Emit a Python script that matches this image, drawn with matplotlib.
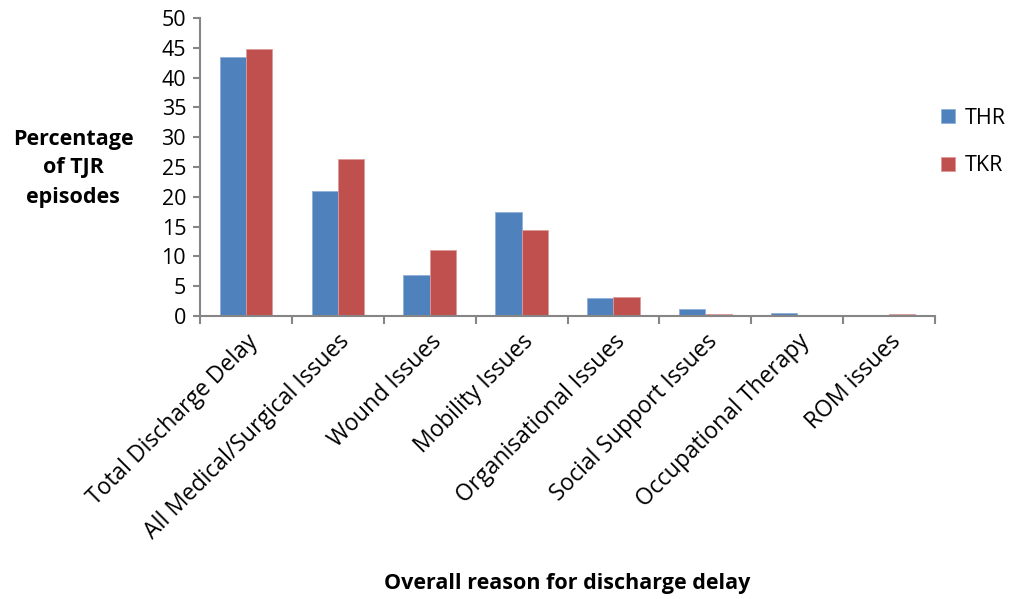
import matplotlib
matplotlib.use("Agg")
import matplotlib.pyplot as plt
import numpy as np

categories = ["Total Discharge Delay", "All Medical/Surgical Issues", "Wound Issues",
              "Mobility Issues", "Organisational Issues", "Social Support Issues",
              "Occupational Therapy", "ROM issues"]
thr = [43.5, 21.0, 6.8, 17.4, 3.1, 1.2, 0.55, 0.0]
tkr = [44.8, 26.3, 11.1, 14.4, 3.2, 0.3, 0.0, 0.3]

plt.rcParams['font.family'] = ['Open Sans', 'DejaVu Sans']
fs = 15.5

fig = plt.figure(figsize=(10.11, 5.99), dpi=100)
ax = fig.add_axes([200 / 1011, 1 - 316 / 599, 735 / 1011, 298 / 599])

ind = np.arange(len(categories))
width = 0.286
ax.bar(ind - width / 2, thr, width, color="#4f81bd", edgecolor="#8fb0d8", linewidth=0.6, label="THR")
ax.bar(ind + width / 2, tkr, width, color="#c0504d", edgecolor="#dc9a98", linewidth=0.6, label="TKR")

ax.set_xlim(-0.5, len(categories) - 0.5)
ax.set_ylim(0, 50)
ax.set_yticks(np.arange(0, 51, 5))
ax.tick_params(axis="y", labelsize=fs, length=5, color="#868686", width=1.5, pad=5)

# category boundaries get the tick marks, names sit at the centres
ax.set_xticks(np.arange(-0.5, len(categories), 1))
ax.set_xticklabels([])
ax.set_xticks(ind, minor=True)
ax.set_xticklabels(categories, minor=True, rotation=45, ha="right", rotation_mode="anchor", fontsize=16.5)
ax.tick_params(axis="x", which="major", length=6, color="#868686", width=1.5)
ax.tick_params(axis="x", which="minor", length=0, pad=10)

for s in ["top", "right"]:
    ax.spines[s].set_visible(False)
for s in ["left", "bottom"]:
    ax.spines[s].set_color("#868686")
    ax.spines[s].set_linewidth(1.5)

fig.text(73 / 1011, 1 - 168 / 599, "Percentage\nof TJR\nepisodes", ha="center", va="center",
         fontsize=fs, fontweight="bold", linespacing=1.5)
fig.text(567 / 1011, 1 - 583 / 599, "Overall reason for discharge delay", ha="center", va="center",
         fontsize=fs, fontweight="bold")

fig.legend(loc="center left", bbox_to_anchor=(941 / 1011, 1 - 142 / 599), frameon=False,
           fontsize=fs, handlelength=0.65, handleheight=0.65, labelspacing=1.25, handletextpad=0.45,
           borderpad=0, borderaxespad=0)

fig.savefig("out.png", dpi=100)
